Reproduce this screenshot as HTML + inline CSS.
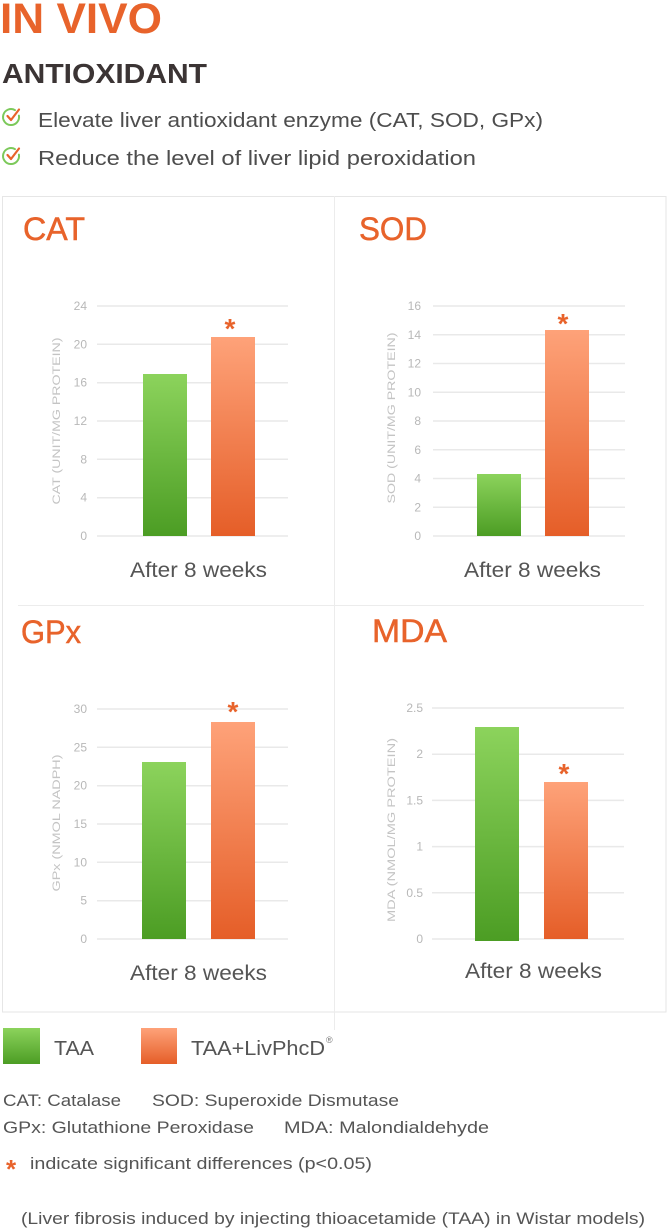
<!DOCTYPE html>
<html><head><meta charset="utf-8">
<style>
html,body{margin:0;padding:0;background:#fff;}
svg{display:block;}
text{font-family:"Liberation Sans",sans-serif;}
</style></head>
<body>
<svg width="667" height="1232" viewBox="0 0 667 1232" xmlns="http://www.w3.org/2000/svg">
<defs>
<linearGradient id="gg" x1="0" y1="0" x2="0" y2="1"><stop offset="0" stop-color="#8cd35c"/><stop offset="1" stop-color="#4c9d24"/></linearGradient>
<linearGradient id="og" x1="0" y1="0" x2="0" y2="1"><stop offset="0" stop-color="#fea279"/><stop offset="1" stop-color="#e55e28"/></linearGradient>
</defs>

<!-- header -->
<text x="0" y="33" font-size="43" font-weight="bold" fill="#e8632b" textLength="162" lengthAdjust="spacingAndGlyphs">IN VIVO</text>
<text x="2" y="83" font-size="28" font-weight="bold" fill="#3b3434" textLength="205" lengthAdjust="spacingAndGlyphs">ANTIOXIDANT</text>

<g fill="none" stroke-linecap="round" stroke-linejoin="round">
<path d="M15,110.1 A8,8 0 1 0 18.9,115.6" stroke="#7cc95a" stroke-width="2"/>
<path d="M7.5,116 L11,120 L19,109.5" stroke="#e8632b" stroke-width="2.2"/>
<path d="M15,149.1 A8,8 0 1 0 18.9,154.6" stroke="#7cc95a" stroke-width="2"/>
<path d="M7.5,155 L11,159 L19,148.5" stroke="#e8632b" stroke-width="2.2"/>
</g>
<text x="38" y="127" font-size="20" fill="#4d4d4d" textLength="505" lengthAdjust="spacingAndGlyphs">Elevate liver antioxidant enzyme (CAT, SOD, GPx)</text>
<text x="38" y="165" font-size="20" fill="#4d4d4d" textLength="438" lengthAdjust="spacingAndGlyphs">Reduce the level of liver lipid peroxidation</text>

<!-- box -->
<rect x="2.5" y="196.5" width="663.5" height="815.5" fill="none" stroke="#e6e6e6" stroke-width="1"/>
<line x1="334.5" y1="196" x2="334.5" y2="1030" stroke="#ececec" stroke-width="1"/>
<line x1="18" y1="605.5" x2="644" y2="605.5" stroke="#ececec" stroke-width="1"/>

<!-- titles -->
<g font-size="32" fill="#e8632b" stroke="#e8632b" stroke-width="0.5">
<text x="23" y="240" textLength="62" lengthAdjust="spacingAndGlyphs">CAT</text>
<text x="359" y="240" textLength="68" lengthAdjust="spacingAndGlyphs">SOD</text>
<text x="21" y="643" textLength="60" lengthAdjust="spacingAndGlyphs">GPx</text>
<text x="372" y="642" textLength="75" lengthAdjust="spacingAndGlyphs">MDA</text>
</g>

<!-- CAT chart -->
<g stroke="#e9e9e9" stroke-width="1.5">
<line x1="97" y1="306" x2="288" y2="306"/><line x1="97" y1="344.3" x2="288" y2="344.3"/>
<line x1="97" y1="382.7" x2="288" y2="382.7"/><line x1="97" y1="421" x2="288" y2="421"/>
<line x1="97" y1="459.3" x2="288" y2="459.3"/><line x1="97" y1="497.7" x2="288" y2="497.7"/>
<line x1="97" y1="536" x2="288" y2="536"/>
</g>
<g font-size="12" fill="#b8b8b8" text-anchor="end">
<text x="87" y="310">24</text><text x="87" y="348.3">20</text><text x="87" y="386.7">16</text>
<text x="87" y="425">12</text><text x="87" y="463.3">8</text><text x="87" y="501.7">4</text><text x="87" y="540">0</text>
</g>
<rect x="143" y="374" width="44" height="162" fill="url(#gg)"/>
<rect x="211" y="337" width="44" height="199" fill="url(#og)"/>
<text x="230" y="338" font-size="28" font-weight="bold" fill="#e8632b" text-anchor="middle">*</text>
<text transform="translate(60,421) rotate(-90)" font-size="11" fill="#c4c4c4" text-anchor="middle" textLength="167" lengthAdjust="spacingAndGlyphs">CAT (UNIT/MG PROTEIN)</text>
<text x="130" y="577" font-size="21" fill="#555" textLength="137" lengthAdjust="spacingAndGlyphs">After 8 weeks</text>

<!-- SOD chart -->
<g stroke="#e9e9e9" stroke-width="1.5">
<line x1="433" y1="306" x2="625" y2="306"/><line x1="433" y1="334.75" x2="625" y2="334.75"/>
<line x1="433" y1="363.5" x2="625" y2="363.5"/><line x1="433" y1="392.25" x2="625" y2="392.25"/>
<line x1="433" y1="421" x2="625" y2="421"/><line x1="433" y1="449.75" x2="625" y2="449.75"/>
<line x1="433" y1="478.5" x2="625" y2="478.5"/><line x1="433" y1="507.25" x2="625" y2="507.25"/>
<line x1="433" y1="536" x2="625" y2="536"/>
</g>
<g font-size="12" fill="#b8b8b8" text-anchor="end">
<text x="421" y="310">16</text><text x="421" y="338.75">14</text><text x="421" y="367.5">12</text>
<text x="421" y="396.25">10</text><text x="421" y="425">8</text><text x="421" y="453.75">6</text>
<text x="421" y="482.5">4</text><text x="421" y="511.25">2</text><text x="421" y="540">0</text>
</g>
<rect x="477" y="474" width="44" height="62" fill="url(#gg)"/>
<rect x="545" y="330" width="44" height="206" fill="url(#og)"/>
<text x="563" y="333" font-size="28" font-weight="bold" fill="#e8632b" text-anchor="middle">*</text>
<text transform="translate(395,418) rotate(-90)" font-size="11" fill="#c4c4c4" text-anchor="middle" textLength="171" lengthAdjust="spacingAndGlyphs">SOD (UNIT/MG PROTEIN)</text>
<text x="464" y="577" font-size="21" fill="#555" textLength="137" lengthAdjust="spacingAndGlyphs">After 8 weeks</text>

<!-- GPx chart -->
<g stroke="#e9e9e9" stroke-width="1.5">
<line x1="97" y1="709" x2="288" y2="709"/><line x1="97" y1="747.3" x2="288" y2="747.3"/>
<line x1="97" y1="785.7" x2="288" y2="785.7"/><line x1="97" y1="824" x2="288" y2="824"/>
<line x1="97" y1="862.3" x2="288" y2="862.3"/><line x1="97" y1="900.7" x2="288" y2="900.7"/>
<line x1="97" y1="939" x2="288" y2="939"/>
</g>
<g font-size="12" fill="#b8b8b8" text-anchor="end">
<text x="87" y="713">30</text><text x="87" y="751.3">25</text><text x="87" y="789.7">20</text>
<text x="87" y="828">15</text><text x="87" y="866.3">10</text><text x="87" y="904.7">5</text><text x="87" y="943">0</text>
</g>
<rect x="142" y="762" width="44" height="177" fill="url(#gg)"/>
<rect x="211" y="722" width="44" height="217" fill="url(#og)"/>
<text x="233" y="721" font-size="28" font-weight="bold" fill="#e8632b" text-anchor="middle">*</text>
<text transform="translate(60,823) rotate(-90)" font-size="11" fill="#c4c4c4" text-anchor="middle" textLength="137" lengthAdjust="spacingAndGlyphs">GPx (NMOL NADPH)</text>
<text x="130" y="980" font-size="21" fill="#555" textLength="137" lengthAdjust="spacingAndGlyphs">After 8 weeks</text>

<!-- MDA chart -->
<g stroke="#e9e9e9" stroke-width="1.5">
<line x1="432" y1="708" x2="624" y2="708"/><line x1="432" y1="754.2" x2="624" y2="754.2"/>
<line x1="432" y1="800.4" x2="624" y2="800.4"/><line x1="432" y1="846.6" x2="624" y2="846.6"/>
<line x1="432" y1="892.8" x2="624" y2="892.8"/><line x1="432" y1="939" x2="624" y2="939"/>
</g>
<g font-size="12" fill="#b8b8b8" text-anchor="end">
<text x="423" y="712">2.5</text><text x="423" y="758.2">2</text><text x="423" y="804.4">1.5</text>
<text x="423" y="850.6">1</text><text x="423" y="896.8">0.5</text><text x="423" y="943">0</text>
</g>
<rect x="475" y="727" width="44" height="214" fill="url(#gg)"/>
<rect x="544" y="782" width="44" height="157" fill="url(#og)"/>
<text x="564" y="783" font-size="28" font-weight="bold" fill="#e8632b" text-anchor="middle">*</text>
<text transform="translate(395,830) rotate(-90)" font-size="11" fill="#c4c4c4" text-anchor="middle" textLength="184" lengthAdjust="spacingAndGlyphs">MDA (NMOL/MG PROTEIN)</text>
<text x="465" y="978" font-size="21" fill="#555" textLength="137" lengthAdjust="spacingAndGlyphs">After 8 weeks</text>

<!-- legend -->
<rect x="3" y="1028" width="37" height="36" fill="url(#gg)"/>
<text x="54" y="1055" font-size="20" fill="#555" textLength="40" lengthAdjust="spacingAndGlyphs">TAA</text>
<rect x="141" y="1028" width="36" height="36" fill="url(#og)"/>
<text x="191" y="1055" font-size="20" fill="#555" textLength="134" lengthAdjust="spacingAndGlyphs">TAA+LivPhcD</text>
<text x="326" y="1043" font-size="9" fill="#777">®</text>

<g font-size="17" fill="#555">
<text x="3" y="1106" textLength="118" lengthAdjust="spacingAndGlyphs">CAT: Catalase</text>
<text x="152" y="1106" textLength="247" lengthAdjust="spacingAndGlyphs">SOD: Superoxide Dismutase</text>
<text x="3" y="1133" textLength="251" lengthAdjust="spacingAndGlyphs">GPx: Glutathione Peroxidase</text>
<text x="284" y="1133" textLength="205" lengthAdjust="spacingAndGlyphs">MDA: Malondialdehyde</text>
<text x="30" y="1169" textLength="342" lengthAdjust="spacingAndGlyphs">indicate significant differences (p&lt;0.05)</text>
<text x="21" y="1224" textLength="624" lengthAdjust="spacingAndGlyphs">(Liver fibrosis induced by injecting thioacetamide (TAA) in Wistar models)</text>
</g>
<text x="11" y="1178" font-size="26" font-weight="bold" fill="#e8632b" text-anchor="middle">*</text>
</svg>
</body></html>
